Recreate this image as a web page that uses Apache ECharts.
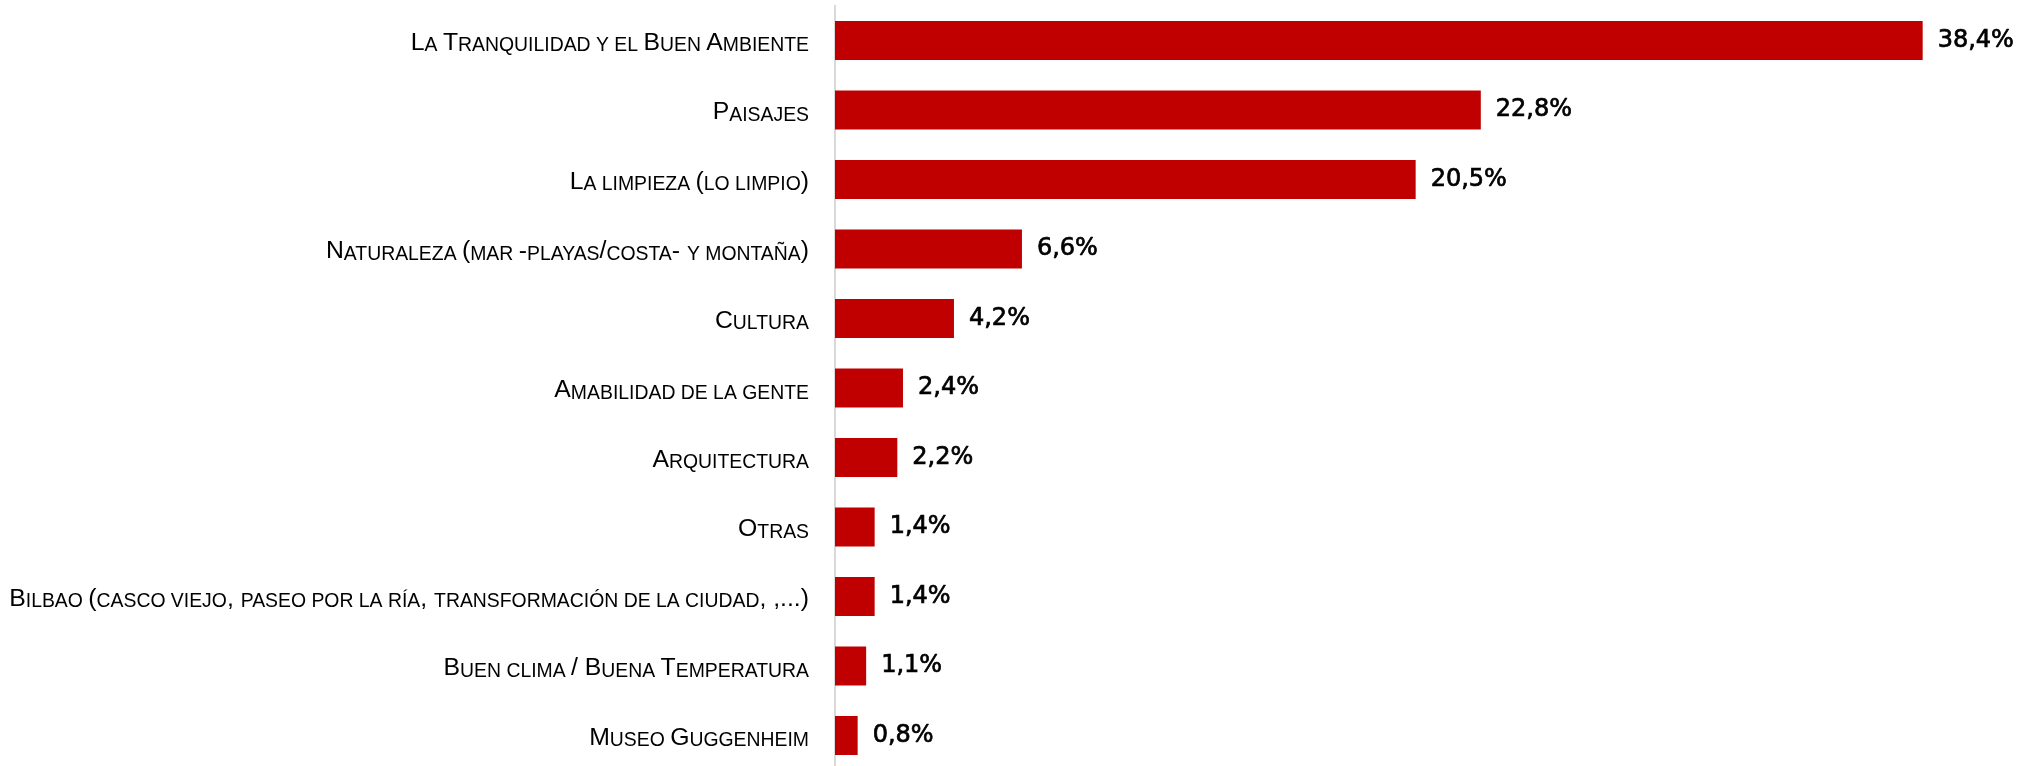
<!DOCTYPE html>
<html>
<head>
<meta charset="utf-8">
<script src="https://cdn.jsdelivr.net/npm/echarts@6/dist/echarts.min.js"></script>
<style>
  html, body { margin: 0; padding: 0; background: #ffffff; }
  #chart { width: 2026px; height: 766px; }
</style>
</head>
<body>
<div id="chart"></div>
<script>
// Motivos de valoración (% de respuestas), de mayor a menor
const categories = [
  'La Tranquilidad y el Buen Ambiente',
  'Paisajes',
  'La limpieza (lo limpio)',
  'Naturaleza (mar -playas/costa- y montaña)',
  'Cultura',
  'Amabilidad de la gente',
  'Arquitectura',
  'Otras',
  'Bilbao (casco viejo, paseo por la ría, transformación de la ciudad, ,...)',
  'Buen clima / Buena Temperatura',
  'Museo Guggenheim'
];
const values = [38.4, 22.8, 20.5, 6.6, 4.2, 2.4, 2.2, 1.4, 1.4, 1.1, 0.8];

// Versalitas: minúsculas en mayúscula de menor tamaño mediante texto enriquecido
function smallCaps(text) {
  let out = '';
  let cur = null;
  let buf = '';
  const flush = () => { if (buf) out += '{' + cur + '|' + buf + '}'; buf = ''; };
  for (const ch of text) {
    let st;
    if (/\s/.test(ch)) st = cur || 'u';
    else st = (ch !== ch.toUpperCase()) ? 's' : 'u';
    if (st !== cur) { flush(); cur = st; }
    buf += ch.toUpperCase();
  }
  flush();
  return out;
}

const labelFont = '"Liberation Sans Narrow", "Arial Narrow", "Liberation Sans", sans-serif';

const chart = echarts.init(document.getElementById('chart'), null, { renderer: 'canvas' });
chart.setOption({
  animation: false,
  backgroundColor: '#ffffff',
  grid: {
    left: 835, top: 5.75, width: 1133, height: 764.5,
    containLabel: false,
    outerBoundsMode: 'none'
  },
  xAxis: {
    type: 'value',
    min: 0,
    max: 40,
    show: false
  },
  yAxis: {
    type: 'category',
    data: categories,
    inverse: true,
    offset: 1.5,
    axisTick: { show: false },
    axisLine: { show: true, lineStyle: { color: '#d9d9d9', width: 2 } },
    axisLabel: {
      margin: 24.5,
      formatter: (v) => smallCaps(v),
      rich: {
        u: { fontFamily: labelFont, fontSize: 24.8, color: '#000000', verticalAlign: 'bottom', lineHeight: 30 },
        s: { fontFamily: labelFont, fontSize: 19.4, color: '#000000', verticalAlign: 'bottom', lineHeight: 30 }
      }
    },
    splitLine: { show: false }
  },
  series: [{
    type: 'bar',
    data: values,
    barWidth: 39,
    itemStyle: { color: '#c00000' },
    label: {
      show: true,
      position: 'right',
      distance: 15,
      fontFamily: '"DejaVu Sans", sans-serif',
      fontSize: 24,
      color: '#000000',
      textBorderColor: '#000000',
      textBorderWidth: 0.7,
      formatter: (p) => p.value.toFixed(1).replace('.', ',') + '%'
    }
  }]
});
</script>
</body>
</html>
